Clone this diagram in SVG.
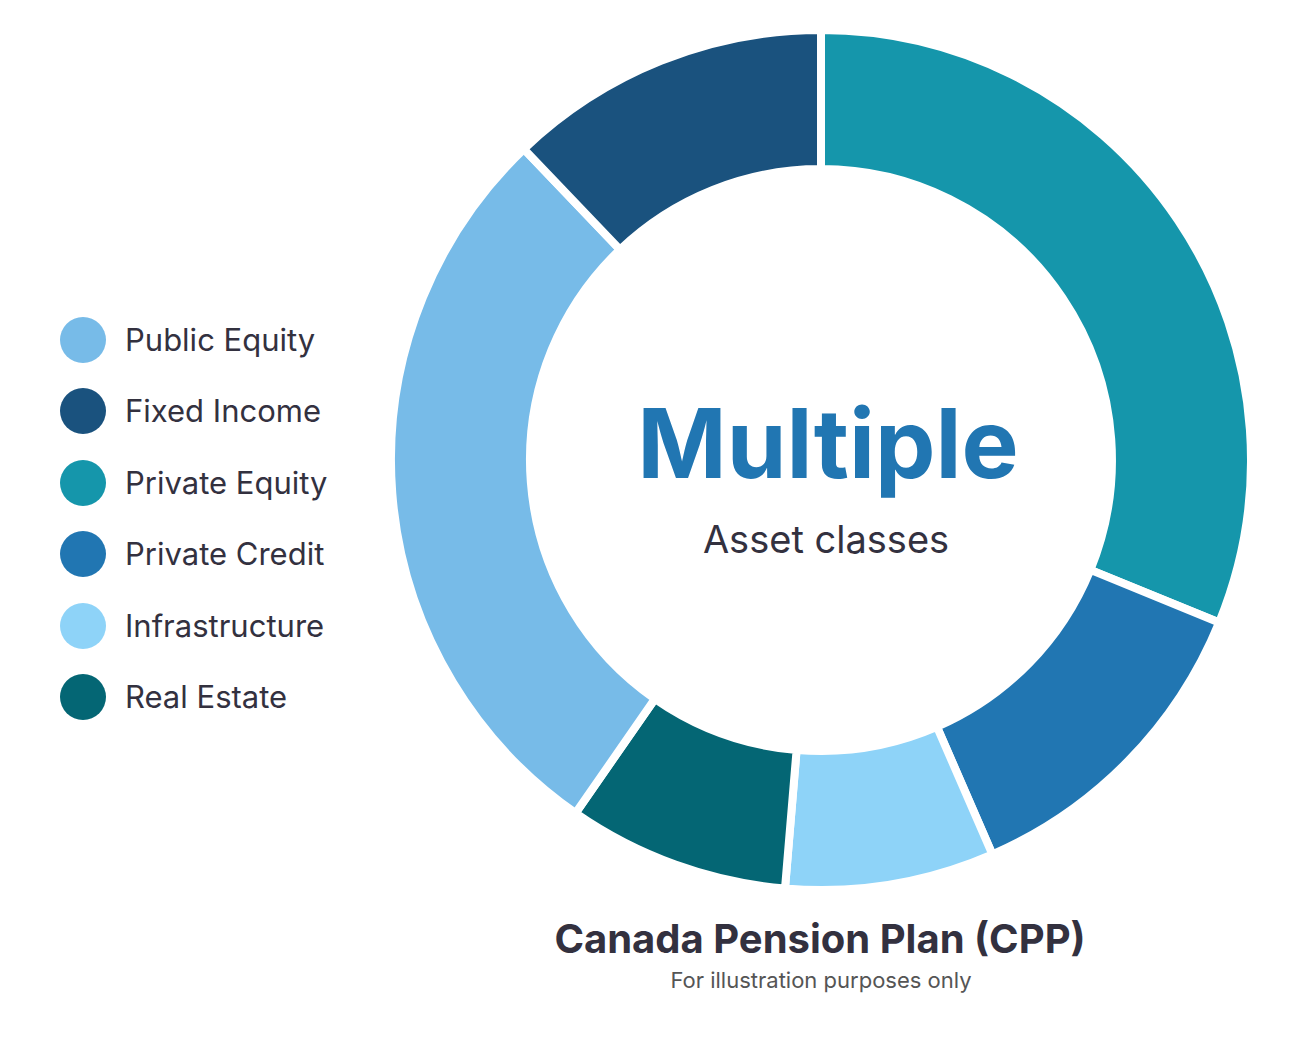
<svg xmlns="http://www.w3.org/2000/svg" width="1316" height="1040" viewBox="0 0 1316 1040">
<style>
.seg{stroke:#fff;stroke-width:8;stroke-linejoin:miter}
.lg{font-family:Inter,"Noto Sans",sans-serif;font-size:31px;fill:#33313f}
</style>
<rect width="1316" height="1040" fill="#fff"/>
<g id="connectors"></g>
<g id="donut">
<path id="private-equity" class="seg" fill="#1596ab" d="M821,30 A430,430 0 0 1 1219.1,622.5 L1090.4,569.9 A291,291 0 0 0 821,169 Z"/>
<path id="private-credit" class="seg" fill="#2176b2" d="M1219.1,622.5 A430,430 0 0 1 992.4,854.4 L937,726.9 A291,291 0 0 0 1090.4,569.9 Z"/>
<path id="infrastructure" class="seg" fill="#8ed3f8" d="M992.4,854.4 A430,430 0 0 1 785,888.5 L796.6,750 A291,291 0 0 0 937,726.9 Z"/>
<path id="real-estate" class="seg" fill="#046674" d="M785,888.5 A430,430 0 0 1 575.6,813.1 L654.9,698.9 A291,291 0 0 0 796.6,750 Z"/>
<path id="public-equity" class="seg" fill="#77bbe8" d="M575.6,813.1 A430,430 0 0 1 523.9,149.1 L619.9,249.6 A291,291 0 0 0 654.9,698.9 Z"/>
<path id="fixed-income" class="seg" fill="#1a527e" d="M523.9,149.1 A430,430 0 0 1 821,30 L821,169 A291,291 0 0 0 619.9,249.6 Z"/>
</g>
<g id="center-text" font-family="Inter,'Noto Sans',sans-serif" text-anchor="middle">
<text x="828" y="478" font-size="96" font-weight="700" fill="#2176b2">Multiple</text>
<text x="826" y="553" font-size="38" fill="#33313f">Asset classes</text>
</g>
<g id="title" font-family="Inter,'Noto Sans',sans-serif" text-anchor="middle">
<text x="820" y="953" font-size="40" font-weight="700" fill="#33313f">Canada Pension Plan (CPP)</text>
<text x="821" y="988" font-size="22" fill="#555">For illustration purposes only</text>
</g>
<g id="legend">
<g id="lg-public-equity"><circle cx="83" cy="340" r="23" fill="#77bbe8"/><text class="lg" x="125" y="351">Public Equity</text></g>
<g id="lg-fixed-income"><circle cx="83" cy="411" r="23" fill="#1a527e"/><text class="lg" x="125" y="422">Fixed Income</text></g>
<g id="lg-private-equity"><circle cx="83" cy="483" r="23" fill="#1596ab"/><text class="lg" x="125" y="494">Private Equity</text></g>
<g id="lg-private-credit"><circle cx="83" cy="554" r="23" fill="#2176b2"/><text class="lg" x="125" y="565">Private Credit</text></g>
<g id="lg-infrastructure"><circle cx="83" cy="626" r="23" fill="#8ed3f8"/><text class="lg" x="125" y="637">Infrastructure</text></g>
<g id="lg-real-estate"><circle cx="83" cy="697" r="23" fill="#046674"/><text class="lg" x="125" y="708">Real Estate</text></g>
</g>
</svg>
